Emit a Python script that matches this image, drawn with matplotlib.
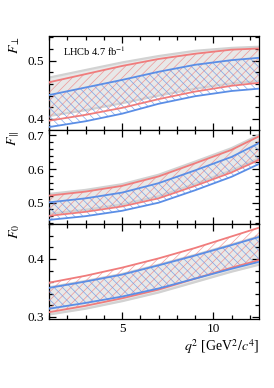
import matplotlib
matplotlib.use("Agg")
import matplotlib.pyplot as plt
from matplotlib.ticker import MultipleLocator

# 图中读出的数值 (q2 单位 GeV^2/c^4)
q2 = [1, 3, 5, 7, 9, 11, 12.5]

# F_perp
perp_gray_hi = [0.471, 0.484, 0.497, 0.508, 0.517, 0.522, 0.524]
perp_gray_lo = [0.405, 0.415, 0.427, 0.440, 0.452, 0.461, 0.465]
perp_red_hi = [0.463, 0.477, 0.491, 0.503, 0.512, 0.519, 0.521]
perp_red_lo = [0.397, 0.407, 0.419, 0.434, 0.447, 0.457, 0.462]
perp_blue_hi = [0.441, 0.454, 0.467, 0.481, 0.493, 0.501, 0.505]
perp_blue_lo = [0.386, 0.396, 0.409, 0.426, 0.439, 0.448, 0.452]

# F_parallel
para_gray_hi = [0.526, 0.538, 0.555, 0.583, 0.622, 0.662, 0.701]
para_gray_lo = [0.467, 0.479, 0.495, 0.519, 0.556, 0.596, 0.632]
para_red_hi = [0.521, 0.533, 0.550, 0.578, 0.617, 0.657, 0.697]
para_red_lo = [0.461, 0.473, 0.489, 0.513, 0.550, 0.590, 0.627]
para_blue_hi = [0.501, 0.513, 0.530, 0.558, 0.596, 0.636, 0.677]
para_blue_lo = [0.449, 0.460, 0.476, 0.500, 0.537, 0.577, 0.615]

# F_0
f0_gray_hi = [0.351, 0.362, 0.374, 0.390, 0.407, 0.425, 0.439]
f0_gray_lo = [0.304, 0.314, 0.327, 0.342, 0.360, 0.378, 0.390]
f0_red_hi = [0.359, 0.371, 0.385, 0.401, 0.419, 0.439, 0.454]
f0_red_lo = [0.308, 0.319, 0.332, 0.347, 0.366, 0.385, 0.398]
f0_blue_hi = [0.350, 0.361, 0.373, 0.389, 0.406, 0.424, 0.438]
f0_blue_lo = [0.314, 0.324, 0.335, 0.349, 0.366, 0.383, 0.395]

panels = [
    (r"$F_{\perp}$", (0.381, 0.543), [0.4, 0.5],
     (perp_gray_lo, perp_gray_hi), (perp_red_lo, perp_red_hi), (perp_blue_lo, perp_blue_hi)),
    (r"$F_{\parallel}$", (0.436, 0.716), [0.5, 0.6, 0.7],
     (para_gray_lo, para_gray_hi), (para_red_lo, para_red_hi), (para_blue_lo, para_blue_hi)),
    (r"$F_0$", (0.297, 0.46), [0.3, 0.4],
     (f0_gray_lo, f0_gray_hi), (f0_red_lo, f0_red_hi), (f0_blue_lo, f0_blue_hi)),
]

plt.rcParams['font.family'] = ['Liberation Serif', 'DejaVu Serif']
plt.rcParams['mathtext.fontset'] = 'stix'
plt.rcParams['hatch.linewidth'] = 0.5

RED = '#f07c7c'
BLUE = '#5b8ee6'
GRAY = '#d2d2d2'

fig, axes = plt.subplots(3, 1, figsize=(2.74, 3.88), dpi=100, sharex=True)
fig.subplots_adjust(left=0.179, right=0.945, top=0.908, bottom=0.179, hspace=0)

for ax, (label, ylim, yticks, gray, red, blue) in zip(axes, panels):
    # 灰色带
    ax.fill_between(q2, gray[0], gray[1], color='#e8e8e8', lw=0, zorder=1)
    ax.plot(q2, gray[0], color=GRAY, lw=1.6, zorder=2)
    ax.plot(q2, gray[1], color=GRAY, lw=1.6, zorder=2)
    # 红色斜线带
    ax.fill_between(q2, red[0], red[1], facecolor='none', edgecolor=(0.94, 0.49, 0.49, 0.75),
                    lw=0, hatch='////', zorder=3)
    # 蓝色斜线带
    ax.fill_between(q2, blue[0], blue[1], facecolor='none', edgecolor=(0.36, 0.56, 0.9, 0.75),
                    lw=0, hatch='\\\\\\\\', zorder=3)
    for y in red:
        ax.plot(q2, y, color=RED, lw=1.3, zorder=4)
    for y in blue:
        ax.plot(q2, y, color=BLUE, lw=1.3, zorder=4)

    ax.set_xlim(1, 12.5)
    ax.set_ylim(*ylim)
    ax.set_yticks(yticks)
    ax.yaxis.set_minor_locator(MultipleLocator(0.02))
    ax.xaxis.set_major_locator(MultipleLocator(5))
    ax.xaxis.set_minor_locator(MultipleLocator(1))
    ax.tick_params(which='both', direction='in', top=True, right=True, labelsize=9.5, width=0.9)
    ax.tick_params(which='major', length=5)
    ax.tick_params(which='minor', length=2.8)
    for s in ax.spines.values():
        s.set_linewidth(0.9)
    ax.set_ylabel(label, loc='top', fontsize=10, labelpad=4)

axes[0].text(0.067, 0.91, r"LHCb 4.7 fb$^{-1}$", transform=axes[0].transAxes,
             fontsize=7.5, va='top', ha='left')
axes[2].set_xlabel(r"$q^2$ [GeV$^2/c^4$]", loc='right', fontsize=10, labelpad=1)

fig.savefig('out.png', dpi=100)
